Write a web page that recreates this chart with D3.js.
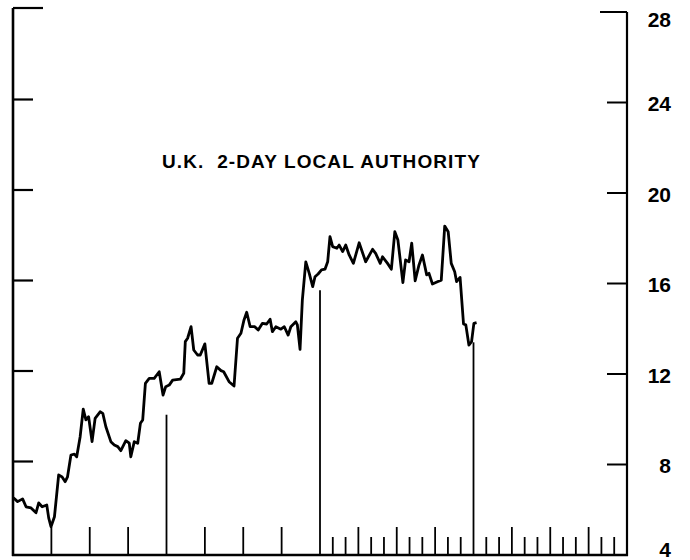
<!DOCTYPE html>
<html>
<head>
<meta charset="utf-8">
<script src="https://cdn.jsdelivr.net/npm/d3@7"></script>
<style>
  body { margin: 0; background: #fff; }
  text { font-family: "Liberation Sans", Arial, sans-serif; fill: #000; }
</style>
</head>
<body>
<div id="vis"></div>
<script>
const FRAME_WIDTH = 690;
const FRAME_HEIGHT = 560;

// position along the time axis, in tick intervals (0 = left edge, 16 = right edge)
const xPos = [0.01, 0.12, 0.25, 0.34, 0.47, 0.60, 0.67, 0.76, 0.88, 0.93,
  0.99, 1.08, 1.19, 1.28, 1.36, 1.42, 1.51, 1.60, 1.66, 1.75,
  1.83, 1.90, 1.97, 2.06, 2.14, 2.27, 2.34, 2.42, 2.55, 2.64,
  2.73, 2.81, 2.94, 3.03, 3.07, 3.16, 3.25, 3.32, 3.38, 3.45,
  3.55, 3.68, 3.81, 3.91, 3.98, 4.07, 4.16, 4.36, 4.45, 4.49,
  4.55, 4.64, 4.71, 4.81, 4.88, 5.00, 5.11, 5.18, 5.31, 5.42,
  5.49, 5.63, 5.76, 5.85, 5.94, 6.02, 6.09, 6.18, 6.30, 6.39,
  6.50, 6.61, 6.70, 6.76, 6.85, 6.98, 7.07, 7.17, 7.24, 7.37,
  7.41, 7.48, 7.54, 7.63, 7.72, 7.81, 7.87, 7.95, 8.04, 8.13,
  8.20, 8.26, 8.33, 8.44, 8.50, 8.59, 8.67, 8.76, 8.87, 9.02,
  9.19, 9.37, 9.45, 9.57, 9.63, 9.76, 9.86, 9.95, 10.03, 10.16,
  10.23, 10.32, 10.39, 10.48, 10.58, 10.67, 10.78, 10.84, 10.93, 11.06,
  11.16, 11.25, 11.34, 11.42, 11.51, 11.56, 11.65, 11.74, 11.80, 11.88,
  11.95, 12.01, 12.08];

// rate, per cent
const rates = [6.53, 6.36, 6.48, 6.13, 6.08, 5.87, 6.30, 6.13, 6.21, 5.64,
  5.25, 5.69, 7.54, 7.45, 7.24, 7.45, 8.42, 8.46, 8.34, 9.23,
  10.45, 9.97, 10.11, 9.01, 10.04, 10.33, 10.26, 9.67, 9.01, 8.86,
  8.79, 8.61, 9.05, 8.94, 8.34, 9.01, 8.94, 9.82, 9.97, 11.59,
  11.81, 11.81, 12.10, 11.07, 11.44, 11.51, 11.73, 11.77, 12.03, 13.43,
  13.58, 14.09, 13.06, 12.84, 12.84, 13.33, 11.59, 11.59, 12.32, 12.15,
  12.10, 11.66, 11.47, 13.58, 13.80, 14.39, 14.73, 14.09, 14.09, 13.94,
  14.24, 14.21, 14.42, 13.87, 14.09, 13.98, 14.09, 13.72, 14.09, 14.31,
  14.17, 13.09, 15.27, 16.96, 16.45, 15.86, 16.30, 16.42, 16.60, 16.63,
  16.96, 18.07, 17.63, 17.56, 17.70, 17.41, 17.70, 17.26, 16.89, 17.80,
  16.96, 17.51, 17.33, 16.89, 17.18, 16.89, 16.63, 18.29, 17.92, 16.04,
  17.04, 16.96, 17.78, 16.12, 16.82, 17.26, 16.38, 16.45, 15.98, 16.08,
  16.15, 18.54, 18.29, 16.89, 16.52, 16.08, 16.27, 14.21, 14.17, 13.28,
  13.43, 14.24, 14.27];

// tall marker lines rising from the time axis
const markPos = [4, 8, 12];
const markTops = [10.2, 15.7, 13.4];

const yTicks = [4, 8, 12, 16, 20, 24, 28];
const TITLE = "U.K.  2-DAY LOCAL AUTHORITY";

const SVG = d3.select("#vis")
  .append("svg")
    .attr("width", FRAME_WIDTH)
    .attr("height", FRAME_HEIGHT);

const X_SCALE = d3.scaleLinear().domain([0, 16]).range([13, 627]);
const Y_SCALE = d3.scaleLinear().domain([4, 28]).range([555, 12]);

const X0 = X_SCALE(0), X1 = X_SCALE(16);
const YB = Y_SCALE(4), YT = Y_SCALE(28);

// frame: left edge, right axis, bottom axis
SVG.append("line")
  .attr("x1", X0).attr("x2", X0).attr("y1", YT - 4).attr("y2", YB + 1)
  .attr("stroke", "#000").attr("stroke-width", 2.6);
SVG.append("line")
  .attr("x1", X1).attr("x2", X1).attr("y1", YT).attr("y2", YB + 1)
  .attr("stroke", "#000").attr("stroke-width", 2.2);
SVG.append("line")
  .attr("x1", X0 - 1).attr("x2", X1 + 1).attr("y1", YB).attr("y2", YB)
  .attr("stroke", "#000").attr("stroke-width", 2.4);

// inward ticks on both vertical edges
const sideTicks = yTicks.filter(d => d > 4);
SVG.selectAll(".lt")
  .data(sideTicks)
  .enter()
  .append("line")
    .attr("x1", X0)
    .attr("x2", d => X0 + (d === 28 ? 30 : 20))
    .attr("y1", d => Y_SCALE(d) - (d === 28 ? 4 : 3))
    .attr("y2", d => Y_SCALE(d) - (d === 28 ? 4 : 3))
    .attr("stroke", "#000").attr("stroke-width", 2.2);
SVG.selectAll(".rt")
  .data(sideTicks)
  .enter()
  .append("line")
    .attr("x1", d => X1 - (d === 28 ? 27 : 20))
    .attr("x2", X1)
    .attr("y1", d => Y_SCALE(d))
    .attr("y2", d => Y_SCALE(d))
    .attr("stroke", "#000").attr("stroke-width", 2);

// right-hand labels (top and bottom ones nudged inside the page)
SVG.selectAll(".rl")
  .data(yTicks)
  .enter()
  .append("text")
    .attr("x", 671)
    .attr("y", d => Math.min(Math.max(Y_SCALE(d) + 1, 19), 549))
    .attr("dy", "0.36em")
    .attr("text-anchor", "end")
    .attr("font-size", "21px")
    .attr("font-weight", "bold")
    .text(d => d);

// time axis ticks: whole intervals, thirds in the later half
const majorTicks = d3.range(1, 16).filter(d => !markPos.includes(d));
const minorTicks = d3.range(8, 16).flatMap(d => [d + 1 / 3, d + 2 / 3]);
SVG.selectAll(".mj")
  .data(majorTicks)
  .enter()
  .append("line")
    .attr("x1", d => X_SCALE(d)).attr("x2", d => X_SCALE(d))
    .attr("y1", YB).attr("y2", YB - 28)
    .attr("stroke", "#000").attr("stroke-width", 1.8);
SVG.selectAll(".mn")
  .data(minorTicks)
  .enter()
  .append("line")
    .attr("x1", d => X_SCALE(d)).attr("x2", d => X_SCALE(d))
    .attr("y1", YB).attr("y2", YB - 18)
    .attr("stroke", "#000").attr("stroke-width", 1.8);

// marker lines
SVG.selectAll(".mk")
  .data(markPos)
  .enter()
  .append("line")
    .attr("x1", d => X_SCALE(d)).attr("x2", d => X_SCALE(d))
    .attr("y1", YB).attr("y2", (d, i) => Y_SCALE(markTops[i]))
    .attr("stroke", "#000").attr("stroke-width", 1.8);

// the rate series
const line = d3.line()
  .x((d, i) => X_SCALE(xPos[i]))
  .y(d => Y_SCALE(d));
SVG.append("path")
  .datum(rates)
  .attr("d", line)
  .attr("fill", "none")
  .attr("stroke", "#000")
  .attr("stroke-width", 2.8)
  .attr("stroke-linejoin", "round");

// title
SVG.append("text")
  .attr("x", 162)
  .attr("y", 168)
  .attr("font-size", "19px")
  .attr("font-weight", "bold")
  .attr("letter-spacing", "1.1px")
  .style("white-space", "pre")
  .text(TITLE);
</script>
</body>
</html>
